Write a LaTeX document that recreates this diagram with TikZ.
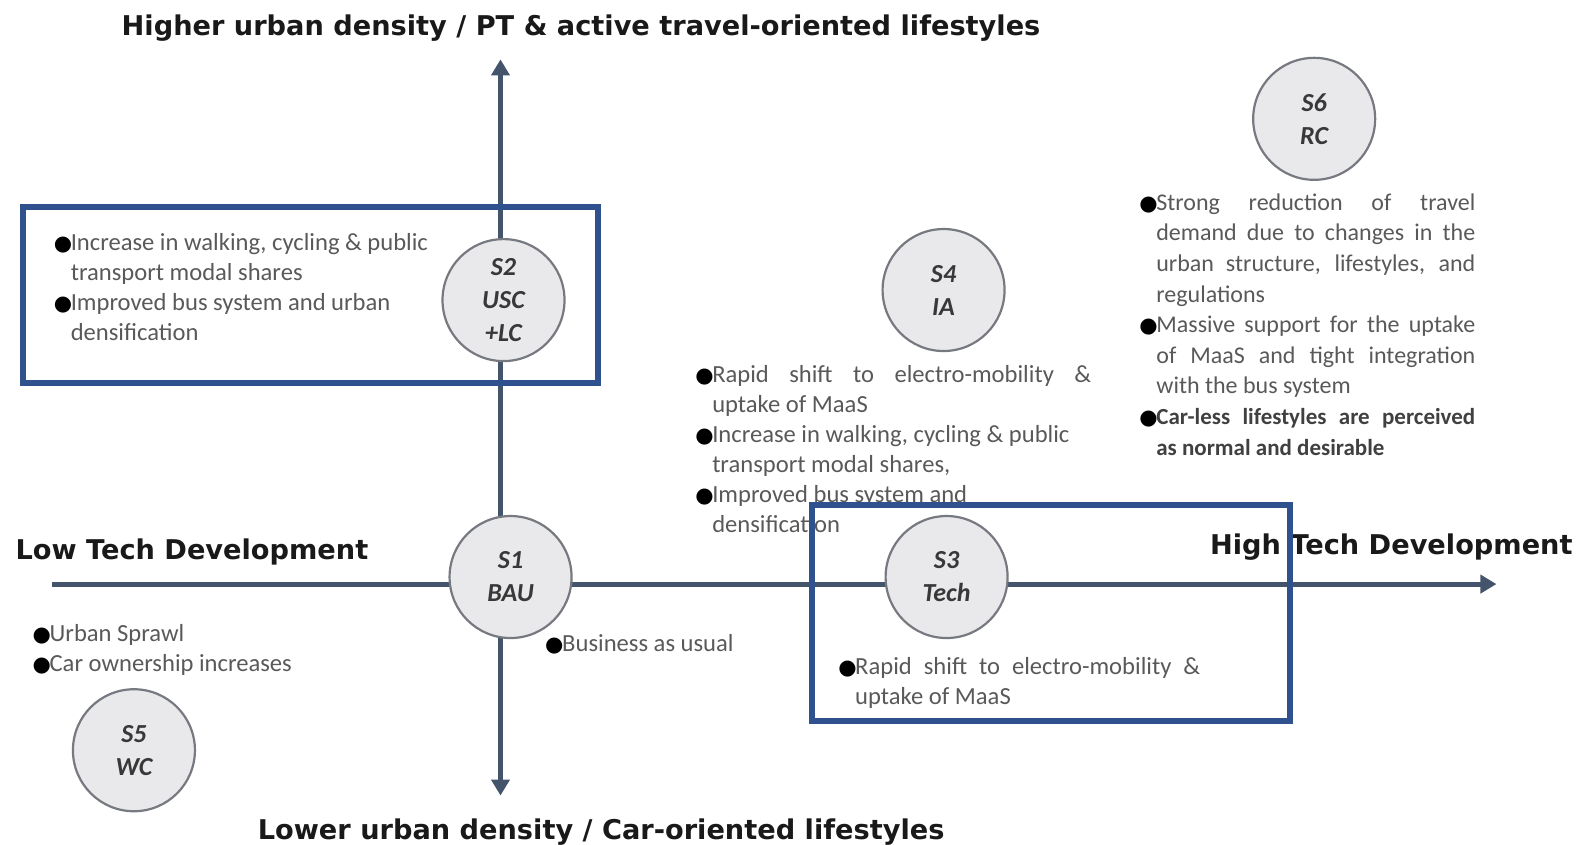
\documentclass[tikz,border=0pt]{standalone}
\usepackage{fontspec}
\setmainfont{Carlito}
\newfontfamily\headfont{DejaVu Sans}
\newfontfamily\dotfont{DejaVu Sans}
\usetikzlibrary{positioning,arrows.meta}

\definecolor{axisblue}{RGB}{68,84,106}
\definecolor{boxblue}{RGB}{47,82,143}
\definecolor{discfill}{RGB}{233,233,235}
\definecolor{discline}{RGB}{118,122,128}
\definecolor{bodygray}{RGB}{89,89,89}

\newcommand\bul{\makebox[8.5pt][l]{\color{black}\dotfont\fontsize{10.5}{10}\selectfont ●}}
\newcommand\itm{\par\noindent\hangindent=8.5pt\hangafter=1\bul}

\begin{document}
\begin{tikzpicture}[
      x=0.50351pt, y=-0.50351pt,
      scen/.style   = {circle, draw=discline, fill=discfill, line width=1.1pt, minimum size=61pt,
                       inner sep=0pt, align=center, text=black!78,
                       font=\bfseries\itshape\fontsize{13}{16.5}\selectfont},
      note/.style   = {anchor=north west, inner sep=0pt, align=justify, text=bodygray,
                       font=\fontsize{12.3}{15}\selectfont},
      axlabel/.style = {inner sep=0pt, text=black!90, font=\headfont\bfseries\fontsize{13.6}{16}\selectfont},
      axis/.style   = {draw=axisblue, line width=2.5pt},
      frame/.style  = {draw=boxblue, line width=3pt}
    ]
    \useasboundingbox (0,0) rectangle (1568,839);

    \coordinate (xlo)  at (52,580);
    \coordinate (xhi)  at (1486,580);
    \coordinate (ytop) at (497,59);
    \coordinate (ybot) at (497,790);

    \draw[axis, -{Triangle[length=8pt,width=9pt]}] (xlo) to (xhi);
    \draw[axis, {Triangle[length=8pt,width=9pt]}-{Triangle[length=8pt,width=9pt]}] (ytop) to (ybot);

    \node (hiurban)  [axlabel] at (577,28)                   {Higher urban density / PT \& active travel-oriented lifestyles};
    \node (lourban)  [axlabel] at (597,826)                  {Lower urban density / Car-oriented lifestyles};
    \node (lotech)   [axlabel, anchor=west] at (15,548)      {Low Tech Development};
    \node (hitech)   [axlabel, anchor=east] at (1562,543)    {High Tech Development};

    \node (bau)  [scen] at (507,573)  {S1\\BAU};
    \node (usc)  [scen] at (500,298)  {S2\\USC\\+LC};
    \node (tech) [scen] at (940,573)  {S3\\Tech};
    \node (ia)   [scen] at (937,288)  {S4\\IA};
    \node (wc)   [scen] at (133,745)  {S5\\WC};
    \node (rc)   [scen] at (1305,118) {S6\\RC};

    \node (uscnote)  [note, text width=200pt] at (53,219) {%
      \itm Increase in walking, cycling \& public\newline transport modal shares
      \itm Improved bus system and urban\newline densification\par};
    \node (ianote)   [note, text width=198pt] at (690,350) {%
      \itm Rapid shift to electro-mobility \&\linebreak uptake of MaaS
      \itm Increase in walking, cycling \& public\newline transport modal shares,
      \itm Improved bus system and\newline densification\par};
    \node (rcnote)   [note, text width=168pt, font=\fontsize{12}{15.3}\selectfont] at (1131,178) {%
      \itm Strong reduction of travel\linebreak demand due to changes in the\linebreak
      urban structure, lifestyles, and\linebreak regulations
      \itm Massive support for the uptake\linebreak of MaaS and tight integration\linebreak with the bus system
      \itm {\bfseries\fontsize{11.5}{15.3}\selectfont\color{black!75}Car-less lifestyles are perceived\linebreak as normal and desirable}\par};
    \node (technote) [note, text width=181pt] at (832,640) {%
      \itm Rapid shift to electro-mobility \&\linebreak uptake of MaaS\par};
    \node (wcnote)   [note, text width=160pt] at (32,607) {%
      \itm Urban Sprawl
      \itm Car ownership increases\par};
    \node (baunote)  [note, text width=120pt] at (541,617) {%
      \itm Business as usual\par};

    \draw[frame] (23,206) rectangle (594,380);
    \draw[frame] (806,501) rectangle (1281,716);
  \end{tikzpicture}
\end{document}
